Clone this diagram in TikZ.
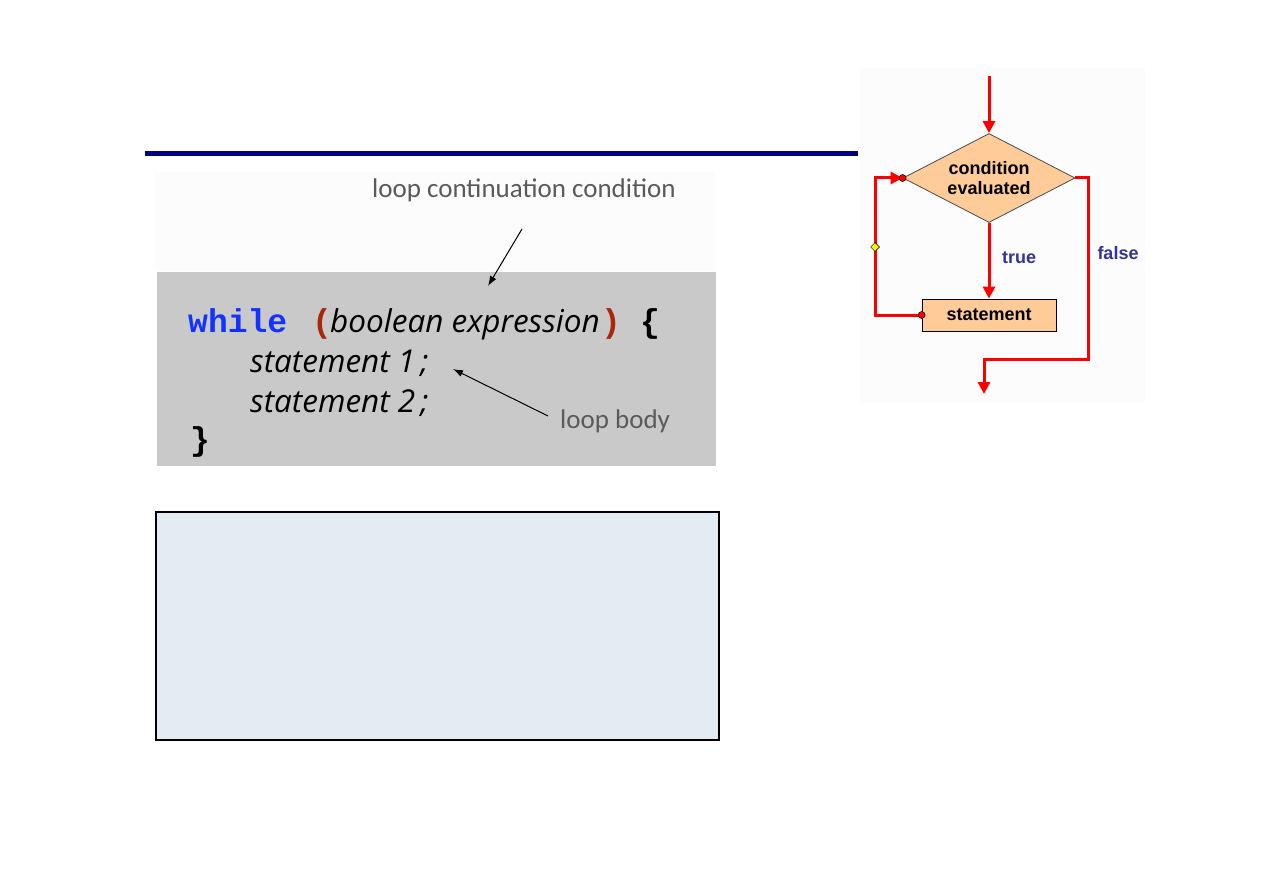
\documentclass[tikz,border=0pt]{standalone}
\usepackage{fontspec}
\setmainfont{Liberation Sans}
\newfontfamily\notefont{Carlito}
\newfontfamily\codefont{Open Sans}
\newfontfamily\kwfont{Liberation Mono}
\usepackage{tikz}
\usetikzlibrary{positioning}
\usetikzlibrary{arrows.meta}
\usetikzlibrary{shapes.geometric}
\definecolor{navy}{RGB}{0,0,128}
\definecolor{kwblue}{RGB}{20,50,255}
\definecolor{parenred}{RGB}{170,40,10}
\definecolor{notegray}{RGB}{90,90,90}
\definecolor{codegray}{RGB}{201,201,201}
\definecolor{boxblue}{RGB}{227,235,243}
\definecolor{peach}{RGB}{255,204,153}
\definecolor{labelblue}{RGB}{51,51,153}
\tikzset{
code_panel/.style={rectangle, fill=codegray, anchor=north west, inner sep=0},
empty_panel/.style={rectangle, draw=black, line width=1.5pt, fill=boxblue, anchor=north west, inner sep=0},
keyword/.style={anchor=base west, inner sep=0, text=kwblue, font=\kwfont\bfseries\fontsize{33}{40}\selectfont},
paren/.style={anchor=base west, inner sep=0, text=parenred, font=\kwfont\bfseries\fontsize{33}{40}\selectfont},
brace/.style={anchor=base west, inner sep=0, text=black, font=\kwfont\bfseries\fontsize{33}{40}\selectfont},
code_text/.style={anchor=base west, inner sep=0, text=black, font=\codefont\itshape\fontsize{31.5}{38}\selectfont},
note/.style={anchor=base west, inner sep=0, text=notegray, font=\notefont\fontsize{27}{32}\selectfont},
note_arrow/.style={-{Latex[length=10pt,width=7pt]}, line width=1pt, black},
decision/.style={diamond, draw=black!70, line width=0.8pt, fill=peach, minimum width=172pt, minimum height=89pt, aspect=1.93, inner sep=0, align=center, font=\bfseries\fontsize{18}{22}\selectfont},
process/.style={rectangle, draw=black, line width=0.8pt, fill=peach, minimum width=134pt, minimum height=32pt, inner sep=0, font=\bfseries\fontsize{18}{22}\selectfont},
flow_line/.style={draw=red, line width=3pt},
flow_arrow/.style={flow_line, -{Triangle[length=12pt,width=12pt]}},
flow_label/.style={text=labelblue, inner sep=0, font=\bfseries\fontsize{18}{22}\selectfont},
red_dot/.style={circle, fill=red, draw=black, line width=0.5pt, minimum size=7pt, inner sep=0},
yellow_mark/.style={diamond, fill=yellow, draw=black, line width=0.5pt, minimum size=9pt, inner sep=0}
}
\begin{document}
\begin{tikzpicture}[x=1pt, y=-1pt]
    \useasboundingbox (0,0) rectangle (1263,893);
    % title rule
    \fill[navy] (145,151) rectangle (858,156);
    % faint backgrounds
    \fill[black!1] (155,172) rectangle (715,271);
    \fill[black!1] (860,68) rectangle (1145,402);

    % code panel
    \node[code_panel, minimum width=559pt, minimum height=194pt] (code) at (157,272) {};
    \node[keyword] (kw_while) at (188,332) {while};
    \node[paren] (lparen) at (312,332) {(};
    \node[code_text] (expr) at (330,332) {boolean expression};
    \node[paren] (rparen) at (601,332) {)};
    \node[brace] (open_brace) at (640,332) {\{};
    \node[code_text] (stmt_one) at (250,372) {statement 1\,;};
    \node[code_text] (stmt_two) at (250,412) {statement 2\,;};
    \node[brace] (close_brace) at (190,450) {\}};

    % annotations
    \node[note] (cond_note) at (372,198) {loop continuation condition};
    \node[note] (body_note) at (560,428) {loop body};
    \coordinate (cond_tail) at (522,229);
    \coordinate (cond_tip) at (488,286);
    \coordinate (body_tail) at (548,416);
    \coordinate (body_tip) at (453,369);
    \draw[note_arrow] (cond_tail) -- (cond_tip);
    \draw[note_arrow] (body_tail) -- (body_tip);

    % empty box
    \node[empty_panel, minimum width=563pt, minimum height=228pt] (empty_box) at (155,511) {};

    % flowchart
    \node[decision] (cond) at (989,178) {condition\\[-2pt]evaluated};
    \node[process] (stmt) at (989,315) {statement};
    \coordinate (entry) at (989,76);
    \coordinate (loop_left) at (875,247);
    \coordinate (false_bend) at (1088,359);
    \coordinate (exit) at (984,394);
    \draw[flow_arrow] (entry) -- (cond.north);
    \draw[flow_arrow] (cond.south) -- (stmt.north);
    \draw[flow_arrow] (stmt.west) -- (stmt.west -| loop_left) |- (cond.west);
    \draw[flow_arrow] (cond.east) -| (false_bend) -| (exit);
    \node[flow_label] (true_label) at (1019,258) {true};
    \node[flow_label] (false_label) at (1118,253) {false};
    \node[red_dot] (dot_cond) at (cond.west) {};
    \node[red_dot] (dot_stmt) at (stmt.west) {};
    \node[yellow_mark] (mark) at (loop_left) {};
\end{tikzpicture}
\end{document}
